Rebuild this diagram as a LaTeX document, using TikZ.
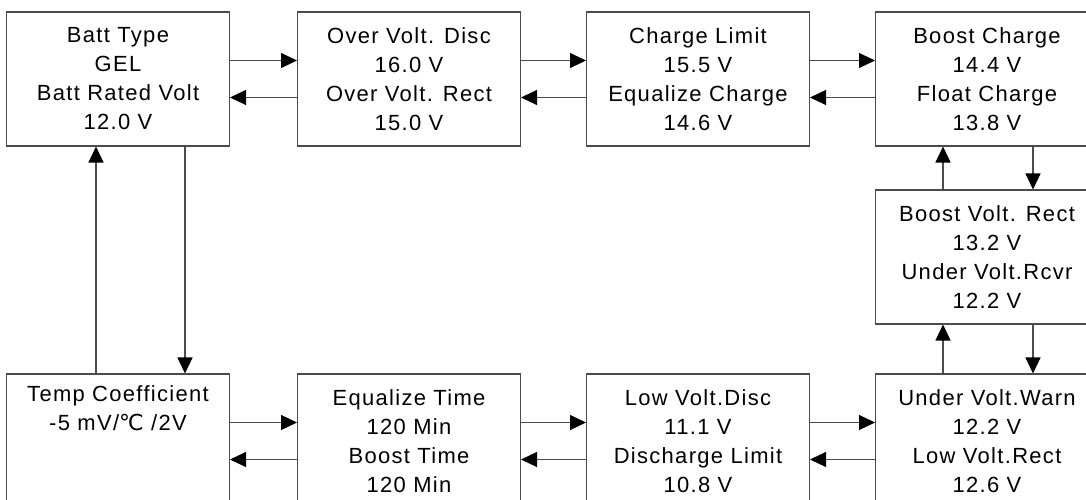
\documentclass[tikz,border=0pt]{standalone}
\usepackage{fontspec}
\setmainfont{Liberation Sans}[LetterSpace=6]
\newfontfamily\degfont{DejaVu Sans}
\usetikzlibrary{arrows.meta}
\begin{document}
\begin{tikzpicture}[x=0.02cm, y=-0.02cm,
    box/.style={rectangle, draw=black!70, line width=0.6pt, minimum width=4.46cm, minimum height=2.68cm, inner sep=0pt, align=center, font=\fontsize{12.5}{16.5}\selectfont},
    arrow/.style={-{Triangle[length=0.32cm, width=0.3cm, color=black]}, draw=black!70, line width=0.6pt}
]
\useasboundingbox (0,0) rectangle (1086,500);
\clip (0,0) rectangle (1086,500);

\node[box] (bt) at (118,79)  {Batt Type\\GEL\\Batt Rated Volt\\12.0 V};
\node[box] (ov) at (409,79)  {Over Volt. Disc\\16.0 V\\Over Volt. Rect\\15.0 V};
\node[box] (cl) at (698,79)  {Charge Limit\\15.5 V\\Equalize Charge\\14.6 V};
\node[box] (bc) at (987,79)  {Boost Charge\\14.4 V\\Float Charge\\13.8 V};
\node[box] (bv) at (987,257) {Boost Volt. Rect\\13.2 V\\Under Volt.Rcvr\\12.2 V};
\node[box] (uv) at (987,441) {Under Volt.Warn\\12.2 V\\Low Volt.Rect\\12.6 V};
\node[box] (lv) at (698,441) {Low Volt.Disc\\11.1 V\\Discharge Limit\\10.8 V};
\node[box] (et) at (409,441) {Equalize Time\\120 Min\\Boost Time\\120 Min};
\node[box] (tc) at (118,441) {Temp Coefficient\\-5 mV/{\degfont ℃} /2V\\\strut\\\strut};

% top row
\draw[arrow] ([yshift=0.37cm]bt.east) -- ([yshift=0.37cm]ov.west);
\draw[arrow] ([yshift=-0.37cm]ov.west) -- ([yshift=-0.37cm]bt.east);
\draw[arrow] ([yshift=0.37cm]ov.east) -- ([yshift=0.37cm]cl.west);
\draw[arrow] ([yshift=-0.37cm]cl.west) -- ([yshift=-0.37cm]ov.east);
\draw[arrow] ([yshift=0.37cm]cl.east) -- ([yshift=0.37cm]bc.west);
\draw[arrow] ([yshift=-0.37cm]bc.west) -- ([yshift=-0.37cm]cl.east);

% right column
\draw[arrow] ([xshift=-0.88cm]bv.north) -- ([xshift=-0.88cm]bc.south);
\draw[arrow] ([xshift=0.92cm]bc.south) -- ([xshift=0.92cm]bv.north);
\draw[arrow] ([xshift=-0.88cm]uv.north) -- ([xshift=-0.88cm]bv.south);
\draw[arrow] ([xshift=0.92cm]bv.south) -- ([xshift=0.92cm]uv.north);

% bottom row
\draw[arrow] ([yshift=0.37cm]tc.east) -- ([yshift=0.37cm]et.west);
\draw[arrow] ([yshift=-0.37cm]et.west) -- ([yshift=-0.37cm]tc.east);
\draw[arrow] ([yshift=0.37cm]et.east) -- ([yshift=0.37cm]lv.west);
\draw[arrow] ([yshift=-0.37cm]lv.west) -- ([yshift=-0.37cm]et.east);
\draw[arrow] ([yshift=0.37cm]lv.east) -- ([yshift=0.37cm]uv.west);
\draw[arrow] ([yshift=-0.37cm]uv.west) -- ([yshift=-0.37cm]lv.east);

% left column
\draw[arrow] ([xshift=-0.44cm]tc.north) -- ([xshift=-0.44cm]bt.south);
\draw[arrow] ([xshift=1.34cm]bt.south) -- ([xshift=1.34cm]tc.north);
\end{tikzpicture}
\end{document}
